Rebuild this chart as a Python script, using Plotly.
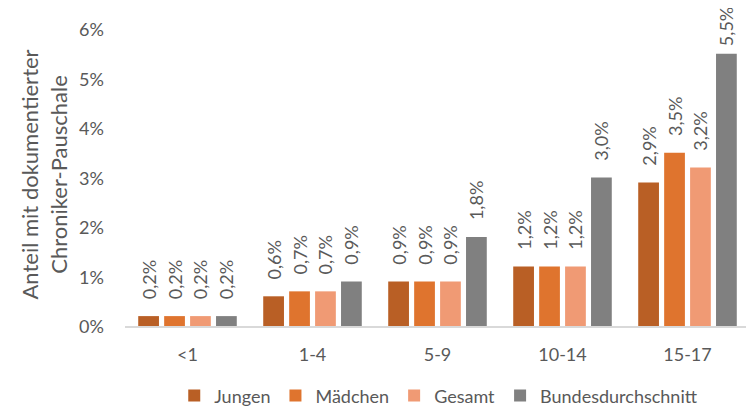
import plotly.graph_objects as go

categories = ["<1", "1-4", "5-9", "10-14", "15-17"]
jungen = [0.2, 0.6, 0.9, 1.2, 2.9]
maedchen = [0.2, 0.7, 0.9, 1.2, 3.5]
gesamt = [0.2, 0.7, 0.9, 1.2, 3.2]
bund = [0.2, 0.9, 1.8, 3.0, 5.5]
y_ticks = [0, 1, 2, 3, 4, 5, 6]
y_tick_labels = ["0%", "1%", "2%", "3%", "4%", "5%", "6%"]
y_title = "Anteil mit dokumentierter<br>Chroniker-Pauschale"

series = [
    ("Jungen", jungen, "#B95F25"),
    ("Mädchen", maedchen, "#DF742E"),
    ("Gesamt", gesamt, "#F09A74"),
    ("Bundesdurchschnitt", bund, "#808080"),
]

FONT = "Lato, Open Sans, sans-serif"
GREY = "#595959"
NB = "\u00a0"


def label(v):
    pad = NB * (1 if v > 5 else 3)
    return pad + f"{v:.1f}%".replace(".", ",")


fig = go.Figure()
for name, vals, col in series:
    fig.add_trace(go.Bar(
        x=categories, y=vals, name=name,
        marker=dict(color=col, line=dict(width=0)),
        text=[label(v) for v in vals],
        textposition="outside", textangle=-90,
        textfont=dict(size=18, color=GREY, family=FONT),
        constraintext="none", cliponaxis=False,
    ))

annotations = []
for v, t in zip(y_ticks, y_tick_labels):
    annotations.append(dict(x=0, xref="paper", y=v, yref="y", text=t, showarrow=False,
                            xanchor="right", yanchor="middle", xshift=-19,
                            font=dict(size=18, color=GREY, family=FONT)))
annotations.append(dict(x=0, xref="paper", y=0.51, yref="paper", text=y_title,
                        showarrow=False, textangle=-90, xanchor="center", yanchor="middle",
                        xshift=-81, font=dict(size=22, color=GREY, family=FONT)))

fig.update_layout(
    width=746, height=398,
    margin=dict(l=117, r=4, t=21, b=80, autoexpand=False),
    paper_bgcolor="white", plot_bgcolor="white",
    barmode="group", bargap=0.17, bargroupgap=0.2,
    font=dict(family=FONT, color=GREY, size=18),
    showlegend=True,
    legend=dict(orientation="h", x=0.502, xanchor="center", y=-0.235, yanchor="middle",
                font=dict(size=18, color=GREY), itemwidth=30,
                traceorder="normal"),
    yaxis=dict(range=[0, 6], tickvals=y_ticks, showticklabels=False,
               showgrid=False, zeroline=False, showline=False, automargin=False, ticks=""),
    xaxis=dict(showgrid=False, showline=True, linecolor="#D9D9D9", linewidth=1.5,
               automargin=False,
               ticks="", tickfont=dict(size=18, color=GREY), ticklabelstandoff=12),
    annotations=annotations,
)

fig.write_html("out.html")
